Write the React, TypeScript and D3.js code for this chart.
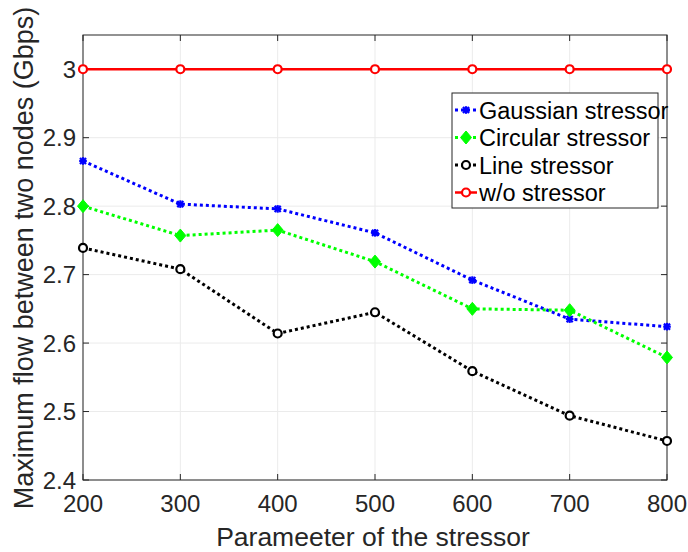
import React from "react";
import * as d3 from "d3";

const params = [200, 300, 400, 500, 600, 700, 800];
const gaussian = [2.866, 2.803, 2.796, 2.761, 2.692, 2.635, 2.624];
const circular = [2.8, 2.757, 2.765, 2.719, 2.65, 2.648, 2.579];
const lineStressor = [2.739, 2.708, 2.614, 2.645, 2.559, 2.494, 2.457];
const withoutStressor = [3, 3, 3, 3, 3, 3, 3];
const xTicks = [200, 300, 400, 500, 600, 700, 800];
const yTicks = [2.4, 2.5, 2.6, 2.7, 2.8, 2.9, 3];

const W = 688;
const H = 552;
const m = { left: 83, right: 21, top: 35, bottom: 72 };
const FONT = "Liberation Sans, Arial, sans-serif";

export default function App() {
  const x = d3.scaleLinear().domain([200, 800]).range([m.left, W - m.right]);
  const y = d3.scaleLinear().domain([2.4, 3.05]).range([H - m.bottom, m.top]);
  const line = d3
    .line<number>()
    .x((_, i) => x(params[i]))
    .y((v) => y(v));

  const x0 = x(200), x1 = x(800), y0 = y(2.4), y1 = y(3.05);

  const star = (cx: number, cy: number, color: string, k: string) => {
    const r = 3.8;
    return (
      <g key={k} stroke={color} strokeWidth={2.2}>
        <line x1={cx - r} y1={cy} x2={cx + r} y2={cy} />
        <line x1={cx} y1={cy - r} x2={cx} y2={cy + r} />
        <line x1={cx - r * 0.8} y1={cy - r * 0.8} x2={cx + r * 0.8} y2={cy + r * 0.8} />
        <line x1={cx - r * 0.8} y1={cy + r * 0.8} x2={cx + r * 0.8} y2={cy - r * 0.8} />
      </g>
    );
  };
  const diamond = (cx: number, cy: number, color: string, k: string) => (
    <path key={k} d={`M${cx},${cy - 6.5}L${cx + 5.5},${cy}L${cx},${cy + 6.5}L${cx - 5.5},${cy}Z`} fill={color} stroke={color} strokeWidth={1} />
  );
  const circ = (cx: number, cy: number, color: string, k: string, r = 4) => (
    <circle key={k} cx={cx} cy={cy} r={r} fill="white" stroke={color} strokeWidth={2.2} />
  );

  const series = [
    { name: "Gaussian stressor", data: gaussian, color: "#0000ff", dash: "3 3", width: 3, marker: star },
    { name: "Circular stressor", data: circular, color: "#00ff00", dash: "3 3", width: 3, marker: diamond },
    { name: "Line stressor", data: lineStressor, color: "#000000", dash: "3 3", width: 3, marker: circ },
    { name: "w/o stressor", data: withoutStressor, color: "#ff0000", dash: "none", width: 2.5, marker: circ },
  ];

  const legX = 452, legY = 93, legW = 206, legH = 115;
  const rowH = 27.5;

  return (
    <svg width={W} height={H} style={{ position: "absolute", left: 0, top: 0, background: "white" }}>
      <rect x={0} y={0} width={W} height={H} fill="white" />
      {/* grid */}
      {xTicks.map((t) => (
        <line key={"gx" + t} x1={x(t)} x2={x(t)} y1={y0} y2={y1} stroke="#ebebeb" strokeWidth={1} />
      ))}
      {yTicks.map((t) => (
        <line key={"gy" + t} x1={x0} x2={x1} y1={y(t)} y2={y(t)} stroke="#ebebeb" strokeWidth={1} />
      ))}
      {/* tick marks on all four sides */}
      {xTicks.map((t) => (
        <g key={"tx" + t} stroke="#262626" strokeWidth={1}>
          <line x1={x(t)} x2={x(t)} y1={y0} y2={y0 - 6} />
          <line x1={x(t)} x2={x(t)} y1={y1} y2={y1 + 6} />
        </g>
      ))}
      {yTicks.map((t) => (
        <g key={"ty" + t} stroke="#262626" strokeWidth={1}>
          <line x1={x0} x2={x0 + 6} y1={y(t)} y2={y(t)} />
          <line x1={x1} x2={x1 - 6} y1={y(t)} y2={y(t)} />
        </g>
      ))}
      <rect x={x0} y={y1} width={x1 - x0} height={y0 - y1} fill="none" stroke="#262626" strokeWidth={1} />
      {/* series */}
      {series.map((s) => (
        <g key={s.name}>
          <path d={line(s.data) || ""} fill="none" stroke={s.color} strokeWidth={s.width} strokeDasharray={s.dash} />
          {s.data.map((v, i) => s.marker(x(params[i]), y(v), s.color, s.name + i))}
        </g>
      ))}
      {/* tick labels */}
      {xTicks.map((t) => (
        <text key={"lx" + t} x={x(t)} y={y0 + 32} textAnchor="middle" fontFamily={FONT} fontSize={24} fill="#262626">
          {t}
        </text>
      ))}
      {yTicks.map((t) => (
        <text key={"ly" + t} x={x0 - 7} y={y(t) + 8.5} textAnchor="end" fontFamily={FONT} fontSize={24} fill="#262626">
          {String(t)}
        </text>
      ))}
      <text x={(x0 + x1) / 2 - 2} y={546} textAnchor="middle" fontFamily={FONT} fontSize={26.5} fill="#262626">
        Parameeter of the stressor
      </text>
      <text transform={`translate(33,258) rotate(-90)`} textAnchor="middle" fontFamily={FONT} fontSize={27} fill="#262626">
        Maximum flow between two nodes (Gbps)
      </text>
      {/* legend */}
      <rect x={legX} y={legY} width={legW} height={legH} fill="white" stroke="#262626" strokeWidth={1} />
      {series.map((s, i) => {
        const cy = legY + 17 + i * rowH;
        const lx0 = legX + 3, lx1 = legX + 25;
        return (
          <g key={"leg" + s.name}>
            <line x1={lx0} x2={lx1} y1={cy} y2={cy} stroke={s.color} strokeWidth={s.width} strokeDasharray={s.dash} />
            {s.marker((lx0 + lx1) / 2, cy, s.color, "lm" + i)}
            <text x={legX + 27} y={cy + 8.5} fontFamily={FONT} fontSize={23.5} fill="#000">
              {s.name}
            </text>
          </g>
        );
      })}
    </svg>
  );
}
